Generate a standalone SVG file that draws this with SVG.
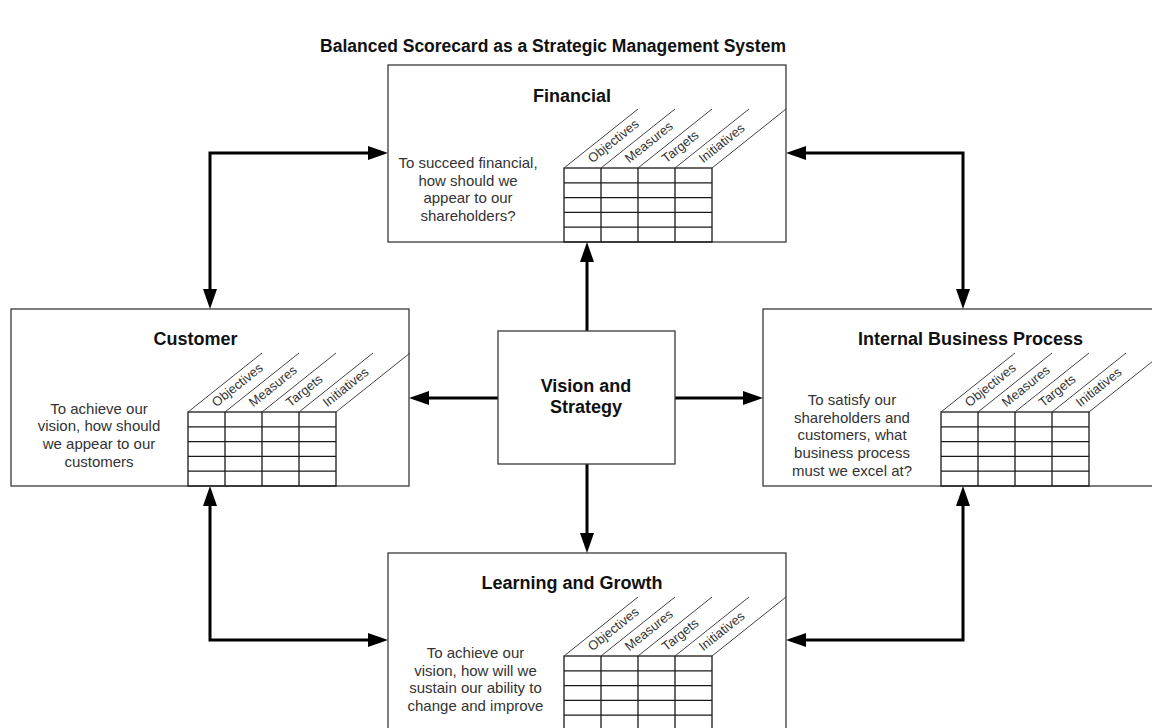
<svg xmlns="http://www.w3.org/2000/svg" xmlns:xlink="http://www.w3.org/1999/xlink" width="1152" height="728" viewBox="0 0 1152 728">
  <style>
    .box { fill: #ffffff; stroke: #3a3a3a; stroke-width: 1.3; }
    .grid { fill: none; stroke: #1a1a1a; stroke-width: 1.3; }
    .diag { fill: none; stroke: #444444; stroke-width: 1; }
    .conn { fill: none; stroke: #000000; stroke-width: 3; }
    .head { font-family: "Liberation Sans", Arial, sans-serif; font-weight: bold; font-size: 18px; fill: #111111; text-anchor: middle; }
    .title { font-family: "Liberation Sans", Arial, sans-serif; font-weight: bold; font-size: 17.5px; fill: #111111; text-anchor: middle; }
    .body { font-family: "Liberation Sans", Arial, sans-serif; font-size: 15px; fill: #333333; text-anchor: middle; }
    .col { font-family: "Liberation Sans", Arial, sans-serif; font-size: 13px; fill: #333333; }
  </style>
  <defs>
    <marker id="arrow" viewBox="0 0 20 14" refX="10" refY="7" markerWidth="20" markerHeight="14" markerUnits="userSpaceOnUse" orient="auto-start-reverse">
      <path d="M0,0 L20,7 L0,14 z" fill="#000000"/>
    </marker>
    <!-- scorecard table: 4 columns x 5 rows with slanted header lines -->
    <g id="table">
      <rect class="grid" x="0" y="0" width="148" height="74"/>
      <path class="grid" d="M37,0 V74 M74,0 V74 M111,0 V74 M0,14.8 H148 M0,29.6 H148 M0,44.4 H148 M0,59.2 H148"/>
      <path class="diag" d="M0,0 l74,-59 M37,0 l74,-59 M74,0 l74,-59 M111,0 l74,-59 M148,0 l74,-59"/>
    </g>
  </defs>

  <rect width="1152" height="728" fill="#ffffff"/>

  <text class="title" x="553" y="52">Balanced Scorecard as a Strategic Management System</text>

  <!-- connectors -->
  <g id="connectors">
    <path class="conn" d="M378,153 H210 V299" marker-start="url(#arrow)" marker-end="url(#arrow)"/>
    <path class="conn" d="M796,153 H963 V299" marker-start="url(#arrow)" marker-end="url(#arrow)"/>
    <path class="conn" d="M210,496 V640 H378" marker-start="url(#arrow)" marker-end="url(#arrow)"/>
    <path class="conn" d="M963,496 V640 H796" marker-start="url(#arrow)" marker-end="url(#arrow)"/>
    <path class="conn" d="M587,331 V252" marker-end="url(#arrow)"/>
    <path class="conn" d="M587,464 V543" marker-end="url(#arrow)"/>
    <path class="conn" d="M498,398 H419" marker-end="url(#arrow)"/>
    <path class="conn" d="M675,398 H753" marker-end="url(#arrow)"/>
  </g>

  <!-- Financial -->
  <g id="financial">
    <rect class="box" x="388" y="65" width="398" height="177"/>
    <text class="head" x="572" y="102">Financial</text>
    <text class="body" x="468" y="168">To succeed financial,<tspan x="468" dy="17.7">how should we</tspan><tspan x="468" dy="17.7">appear to our</tspan><tspan x="468" dy="17.7">shareholders?</tspan></text>
    <g transform="translate(564,168)">
      <use xlink:href="#table" href="#table"/>
      <text class="col" transform="translate(28.3,-4.6) rotate(-38.6)">Objectives</text>
      <text class="col" transform="translate(65.3,-4.6) rotate(-38.6)">Measures</text>
      <text class="col" transform="translate(102.3,-4.6) rotate(-38.6)">Targets</text>
      <text class="col" transform="translate(139.3,-4.6) rotate(-38.6)">Initiatives</text>
    </g>
  </g>

  <!-- Customer -->
  <g id="customer">
    <rect class="box" x="11" y="309" width="398" height="177"/>
    <text class="head" x="195.5" y="345">Customer</text>
    <text class="body" x="99" y="413.5">To achieve our<tspan x="99" dy="17.7">vision, how should</tspan><tspan x="99" dy="17.7">we appear to our</tspan><tspan x="99" dy="17.7">customers</tspan></text>
    <g transform="translate(188,412)">
      <use xlink:href="#table" href="#table"/>
      <text class="col" transform="translate(28.3,-4.6) rotate(-38.6)">Objectives</text>
      <text class="col" transform="translate(65.3,-4.6) rotate(-38.6)">Measures</text>
      <text class="col" transform="translate(102.3,-4.6) rotate(-38.6)">Targets</text>
      <text class="col" transform="translate(139.3,-4.6) rotate(-38.6)">Initiatives</text>
    </g>
  </g>

  <!-- Vision and Strategy -->
  <g id="vision">
    <rect class="box" x="498" y="331" width="177" height="133"/>
    <text class="head" x="586" y="391.5">Vision and<tspan x="586" dy="21.5">Strategy</tspan></text>
  </g>

  <!-- Internal Business Process -->
  <g id="internal">
    <rect class="box" x="763" y="309" width="398" height="177"/>
    <text class="head" x="970.5" y="345">Internal Business Process</text>
    <text class="body" x="852" y="405">To satisfy our<tspan x="852" dy="17.7">shareholders and</tspan><tspan x="852" dy="17.7">customers, what</tspan><tspan x="852" dy="17.7">business process</tspan><tspan x="852" dy="17.7">must we excel at?</tspan></text>
    <g transform="translate(941,412)">
      <use xlink:href="#table" href="#table"/>
      <text class="col" transform="translate(28.3,-4.6) rotate(-38.6)">Objectives</text>
      <text class="col" transform="translate(65.3,-4.6) rotate(-38.6)">Measures</text>
      <text class="col" transform="translate(102.3,-4.6) rotate(-38.6)">Targets</text>
      <text class="col" transform="translate(139.3,-4.6) rotate(-38.6)">Initiatives</text>
    </g>
  </g>

  <!-- Learning and Growth -->
  <g id="learning">
    <rect class="box" x="388" y="553" width="398" height="177"/>
    <text class="head" x="572" y="589">Learning and Growth</text>
    <text class="body" x="475.5" y="658">To achieve our<tspan x="475.5" dy="17.7">vision, how will we</tspan><tspan x="475.5" dy="17.7">sustain our ability to</tspan><tspan x="475.5" dy="17.7">change and improve</tspan></text>
    <g transform="translate(564,656)">
      <use xlink:href="#table" href="#table"/>
      <text class="col" transform="translate(28.3,-4.6) rotate(-38.6)">Objectives</text>
      <text class="col" transform="translate(65.3,-4.6) rotate(-38.6)">Measures</text>
      <text class="col" transform="translate(102.3,-4.6) rotate(-38.6)">Targets</text>
      <text class="col" transform="translate(139.3,-4.6) rotate(-38.6)">Initiatives</text>
    </g>
  </g>
</svg>
